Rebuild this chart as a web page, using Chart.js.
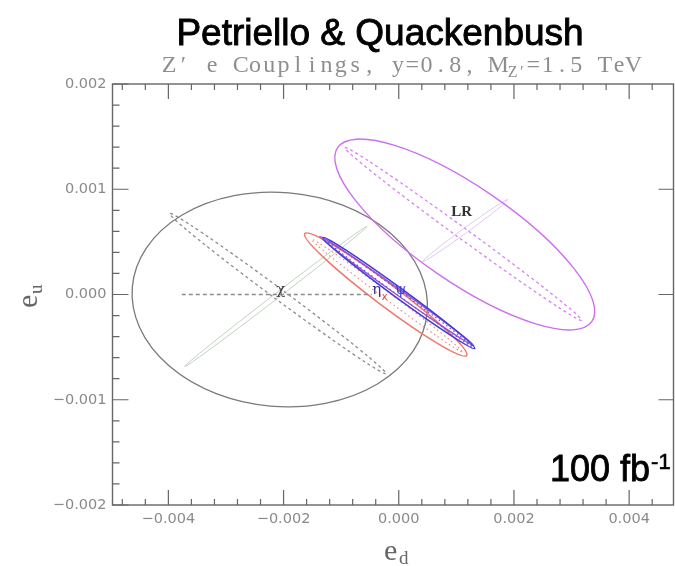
<!DOCTYPE html>
<html>
<head>
<meta charset="utf-8">
<title>Z' e Couplings</title>
<script src="https://cdn.jsdelivr.net/npm/chart.js@4.4.1/dist/chart.umd.min.js"></script>
<style>
  html, body { margin: 0; padding: 0; background: #fff; }
  #wrap { width: 675px; height: 566px; position: relative; }
</style>
</head>
<body>
<div id="wrap"><canvas id="chart"></canvas></div>
<script>
// axis ranges: e_d along x, e_u along y
const xRange = [-0.00497, 0.00477];
const yRange = [-0.002, 0.002];

const xMajorTicks = [-0.004, -0.002, 0, 0.002, 0.004];
const yMajorTicks = [-0.002, -0.001, 0, 0.001, 0.002];
const yRightTicks = [-0.001, 0, 0.001];
const xMinorStep = 0.0004;
const yMinorStep = 0.0002;

// 95% CL ellipses: centre and two conjugate half-axes, in coupling units
const ellipseNames = ['chiCross', 'chiAxis', 'chi', 'lrCross', 'lrAxis', 'lr', 'psiAxis', 'psi', 'etaAxis', 'etaUpper', 'eta'];
const ellipseCentres = [
  [-0.002135, -0.000019], [-0.002101, 0.0000095], [-0.002066, -0.0000475],
  [0.001155, 0.000608], [0.00112, 0.000575], [0.001146, 0.00057],
  [-0.000208, -0.0000095], [-0.000226, 0.0],
  [0.0, 0.0000142], [-0.0000347, 0.000033], [0.0, 0.0000142]
];
const ellipseAxisA = [
  [0.00158, 0.000665], [0.001875, -0.00076], [0.002559, -0.0001225],
  [0.000738, 0.000294], [0.002057, -0.000821], [0.002208, -0.000826],
  [0.001302, -0.000532], [0.001406, -0.000579],
  [0.001269, -0.000505], [0.001337, -0.000518], [0.001319, -0.000527]
];
const ellipseAxisB = [
  [0.000026, -0.000019], [-0.0000568, -0.000042], [-0.0001615, -0.0010124],
  [0.000026, -0.000019], [-0.0000563, -0.0000422], [-0.000467, -0.000374],
  [-0.0000365, -0.0000266], [-0.000115, -0.0000836],
  [-0.0000224, -0.000017], [-0.0000304, -0.000023], [-0.0000512, -0.0000383]
];

// chi direction scanned along e_u = 0
const chiLineX = [-0.003767, -0.000469];
const chiLineY = [0, 0];

// model markers
const markText = ['χ', 'LR', 'η', 'ψ', 'x'];
const markX = [-0.002049, 0.001094, -0.000382, 0.0000347, -0.000243];
const markY = [0.00004, 0.00078, 0.000038, 0.000038, -0.0000285];

const ellipseStyle = {
  chiCross: { color: 'rgba(180,198,180,0.8)', width: 1, dash: [] },
  chiAxis:  { color: '#8c8c8c', width: 1.3, dash: [3, 3] },
  chi:      { color: '#7a7a7a', width: 1.3, dash: [] },
  lrCross:  { color: 'rgba(222,195,235,0.9)', width: 1, dash: [] },
  lrAxis:   { color: 'rgb(215,130,240)', width: 1.3, dash: [3, 3] },
  lr:       { color: 'rgb(205,110,240)', width: 1.4, dash: [] },
  psiAxis:  { color: 'rgb(240,140,130)', width: 1.2, dash: [1.5, 3] },
  psi:      { color: 'rgb(240,120,105)', width: 1.5, dash: [] },
  etaAxis:  { color: 'rgb(90,80,220)', width: 1.2, dash: [1.5, 3] },
  etaUpper: { color: 'rgb(150,80,215)', width: 1.4, dash: [] },
  eta:      { color: 'rgb(70,60,215)', width: 1.6, dash: [] }
};
const markStyle = [
  { font: '15px "DejaVu Serif"', color: '#444' },
  { font: 'bold 15px "Liberation Serif"', color: '#333' },
  { font: '15px "DejaVu Serif"', color: 'rgb(50,50,140)' },
  { font: '14px "DejaVu Serif"', color: 'rgb(60,60,220)' },
  { font: '10px "DejaVu Sans"', color: 'rgb(230,70,60)' }
];

const fmt = v => (v < 0 ? '\u2212' : '') + Math.abs(v).toFixed(3);

function traceEllipse(ctx, sx, sy, c, a, b) {
  const cx = sx.getPixelForValue(c[0]), cy = sy.getPixelForValue(c[1]);
  const ax = sx.getPixelForValue(c[0] + a[0]) - cx, ay = sy.getPixelForValue(c[1] + a[1]) - cy;
  const bx = sx.getPixelForValue(c[0] + b[0]) - cx, by = sy.getPixelForValue(c[1] + b[1]) - cy;
  ctx.save();
  ctx.beginPath();
  ctx.transform(ax, ay, bx, by, cx, cy);
  ctx.arc(0, 0, 1, 0, Math.PI * 2);
  ctx.restore();
}

function minorTicks(min, max, step) {
  const out = [];
  for (let v = Math.ceil(min / step) * step; v <= max + 1e-12; v += step) out.push(v);
  return out;
}

// fixed-pitch text, one glyph per cell
function pitchText(ctx, txt, x, y, pitch) {
  ctx.textAlign = 'center';
  for (const ch of txt) {
    ctx.fillText(ch, x + pitch / 2, y);
    x += pitch;
  }
  return x;
}

// filled text with a thin outline to give it more weight
function heavyText(ctx, txt, x, y, weight) {
  ctx.fillText(txt, x, y);
  ctx.lineWidth = weight;
  ctx.strokeStyle = ctx.fillStyle;
  ctx.strokeText(txt, x, y);
}

const ellipsePlugin = {
  id: 'ellipses',
  beforeDatasetsDraw(chart) {
    const { ctx, chartArea: ca } = chart;
    const sx = chart.scales.x, sy = chart.scales.y;
    ctx.save();
    ctx.beginPath();
    ctx.rect(ca.left, ca.top, ca.right - ca.left, ca.bottom - ca.top);
    ctx.clip();
    ellipseNames.forEach((name, i) => {
      const st = ellipseStyle[name];
      traceEllipse(ctx, sx, sy, ellipseCentres[i], ellipseAxisA[i], ellipseAxisB[i]);
      ctx.strokeStyle = st.color;
      ctx.lineWidth = st.width;
      ctx.setLineDash(st.dash);
      ctx.stroke();
    });
    ctx.setLineDash([]);
    ctx.textAlign = 'center';
    ctx.textBaseline = 'middle';
    markText.forEach((t, i) => {
      ctx.font = markStyle[i].font;
      ctx.fillStyle = markStyle[i].color;
      ctx.fillText(t, sx.getPixelForValue(markX[i]), sy.getPixelForValue(markY[i]));
    });
    ctx.restore();
  }
};

const framePlugin = {
  id: 'frame',
  afterDraw(chart) {
    const { ctx, chartArea: ca } = chart;
    const sx = chart.scales.x, sy = chart.scales.y;
    const isMajor = (list, v) => list.some(m => Math.abs(m - v) < 1e-9);
    ctx.save();
    ctx.strokeStyle = '#666';
    ctx.lineWidth = 1.4;
    ctx.strokeRect(ca.left, ca.top, ca.right - ca.left, ca.bottom - ca.top);
    ctx.lineWidth = 1.2;
    ctx.beginPath();
    minorTicks(xRange[0], xRange[1], xMinorStep).forEach(v => {
      const p = sx.getPixelForValue(v);
      const len = isMajor(xMajorTicks, v) ? 15 : 6;
      ctx.moveTo(p, ca.bottom); ctx.lineTo(p, ca.bottom - len);
      ctx.moveTo(p, ca.top); ctx.lineTo(p, ca.top + len);
    });
    minorTicks(yRange[0], yRange[1], yMinorStep).forEach(v => {
      const p = sy.getPixelForValue(v);
      const len = isMajor(yMajorTicks, v) ? 16 : 7;
      ctx.moveTo(ca.left, p); ctx.lineTo(ca.left + len, p);
    });
    yRightTicks.forEach(v => {
      const p = sy.getPixelForValue(v);
      ctx.moveTo(ca.right, p); ctx.lineTo(ca.right - 15, p);
    });
    ctx.stroke();

    // headings
    ctx.fillStyle = '#000';
    ctx.textAlign = 'center';
    ctx.textBaseline = 'alphabetic';
    ctx.font = '37px "Liberation Sans"';
    heavyText(ctx, 'Petriello & Quackenbush', 380, 45, 0.9);

    ctx.fillStyle = '#8e8e8e';
    ctx.font = '24px "Liberation Serif"';
    let x = pitchText(ctx, 'Z\u2032 e Couplings, y=0.8, M', 162, 72, 14.3);
    ctx.font = '16px "Liberation Serif"';
    x = pitchText(ctx, 'Z\u2032', x + 3, 77, 9);
    ctx.font = '24px "Liberation Serif"';
    pitchText(ctx, '=1.5 TeV', x, 72, 14.3);

    // axis titles
    ctx.fillStyle = '#666';
    ctx.textAlign = 'left';
    ctx.font = '30px "Liberation Serif"';
    ctx.fillText('e', 384, 560);
    ctx.font = '19px "Liberation Serif"';
    ctx.fillText('d', 399, 564);

    ctx.save();
    ctx.translate(37, 308);
    ctx.rotate(-Math.PI / 2);
    ctx.font = '30px "Liberation Serif"';
    ctx.fillText('e', 0, 0);
    ctx.font = '19px "Liberation Serif"';
    ctx.fillText('u', 14, 5);
    ctx.restore();

    // integrated luminosity
    ctx.fillStyle = '#000';
    ctx.font = '36px "Liberation Sans"';
    heavyText(ctx, '100 fb', 550, 481, 0.8);
    const w = ctx.measureText('100 fb').width;
    ctx.font = '22px "Liberation Sans"';
    heavyText(ctx, '-1', 550 + w + 1, 469, 0.6);
    ctx.restore();
  }
};

new Chart(document.getElementById('chart'), {
  type: 'scatter',
  data: {
    datasets: [{
      label: 'chi scan',
      data: chiLineX.map((v, i) => ({ x: v, y: chiLineY[i] })),
      showLine: true,
      borderColor: '#8c8c8c',
      borderWidth: 1.3,
      borderDash: [4, 3],
      pointRadius: 0
    }]
  },
  options: {
    responsive: true,
    maintainAspectRatio: false,
    animation: false,
    devicePixelRatio: 1,
    layout: { padding: { top: 84, right: 1.5, left: 0, bottom: 0 } },
    plugins: { legend: { display: false }, tooltip: { enabled: false } },
    scales: {
      x: {
        type: 'linear',
        min: xRange[0],
        max: xRange[1],
        afterBuildTicks: s => { s.ticks = xMajorTicks.map(v => ({ value: v })); },
        afterFit: s => { s.height = 61; },
        grid: { display: false, drawTicks: false },
        border: { display: false },
        ticks: {
          callback: fmt,
          padding: 6,
          maxRotation: 0,
          autoSkip: false,
          color: '#8a8a8a',
          font: { family: 'DejaVu Sans', size: 14.5 }
        }
      },
      y: {
        type: 'linear',
        min: yRange[0],
        max: yRange[1],
        afterBuildTicks: s => { s.ticks = yMajorTicks.map(v => ({ value: v })); },
        afterFit: s => { s.width = 112.5; },
        grid: { display: false, drawTicks: false },
        border: { display: false },
        ticks: {
          callback: fmt,
          padding: 6,
          autoSkip: false,
          color: '#8a8a8a',
          font: { family: 'DejaVu Sans', size: 14.5 }
        }
      }
    }
  },
  plugins: [ellipsePlugin, framePlugin]
});
</script>
</body>
</html>
